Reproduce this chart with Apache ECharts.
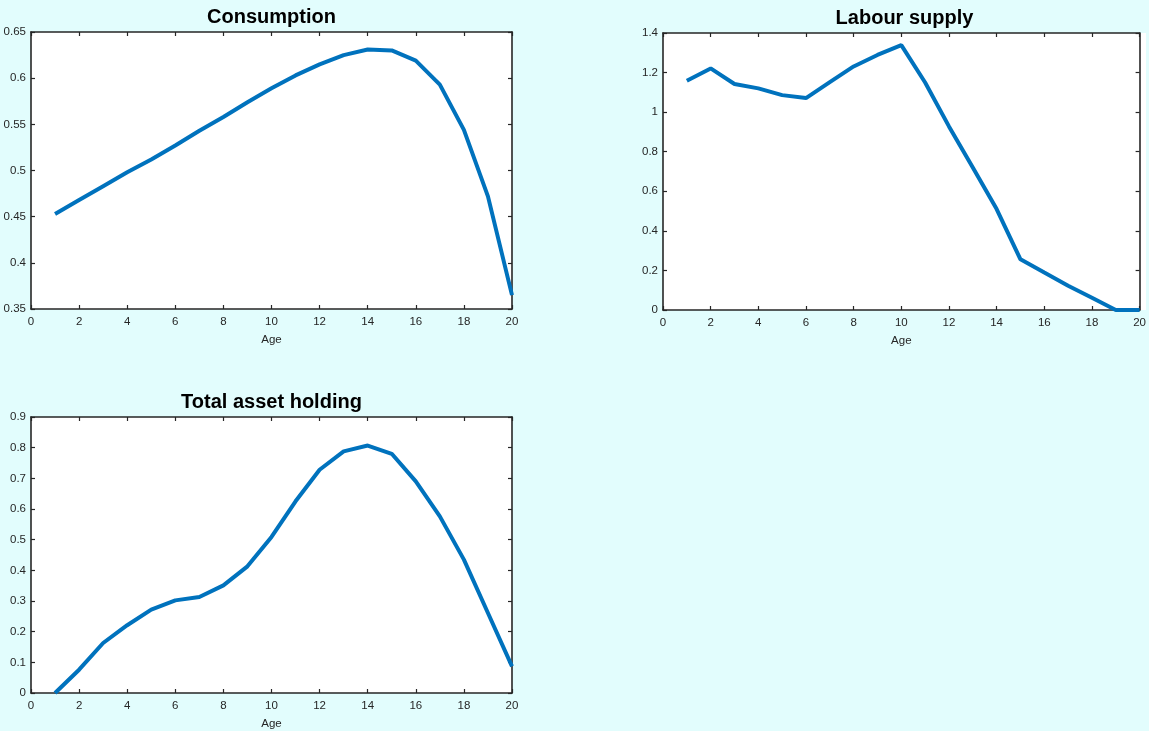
<!DOCTYPE html>
<html>
<head>
<meta charset="utf-8">
<title>Life-cycle profiles</title>
<script src="https://cdn.jsdelivr.net/npm/echarts@6/dist/echarts.min.js"></script>
<style>
  html, body { margin: 0; padding: 0; background: #e2fdfd; }
  #chart { width: 1149px; height: 731px; }
</style>
</head>
<body>
<div id="chart"></div>
<script>
// Age grid shared by all three panels
const ages = [1, 2, 3, 4, 5, 6, 7, 8, 9, 10, 11, 12, 13, 14, 15, 16, 17, 18, 19, 20];

// Consumption by age
const consumption = [0.453, 0.468, 0.483, 0.498, 0.512, 0.527, 0.543, 0.558, 0.574, 0.589,
                     0.603, 0.615, 0.625, 0.631, 0.630, 0.619, 0.593, 0.544, 0.472, 0.365];

// Labour supply by age
const labourSupply = [1.159, 1.221, 1.142, 1.120, 1.086, 1.071, 1.152, 1.231, 1.289, 1.339,
                      1.150, 0.928, 0.720, 0.510, 0.256, 0.189, 0.123, 0.062, 0.000, 0.000];

// Total asset holding by age
const assets = [0.000, 0.076, 0.163, 0.221, 0.272, 0.302, 0.313, 0.351, 0.413, 0.509,
                0.625, 0.728, 0.788, 0.807, 0.780, 0.690, 0.576, 0.435, 0.261, 0.087];

const titles = ['Consumption', 'Labour supply', 'Total asset holding'];
const xLabel = 'Age';

const FONT = '"Liberation Sans", Arial, sans-serif';
const AXIS_COLOR = '#262626';
const LINE_COLOR = '#0072bd';

const pairs = vals => ages.map((a, i) => [a, vals[i]]);

// Panel layout: grid rectangle and y-axis range for each panel
const panels = [
  { left: 31,  top: 32,  width: 481, height: 277, yMin: 0.35, yMax: 0.65, yStep: 0.05, data: consumption },
  { left: 663, top: 33,  width: 483, height: 277, yMin: 0,    yMax: 1.4,  yStep: 0.2,  data: labourSupply },
  { left: 31,  top: 417, width: 481, height: 276, yMin: 0,    yMax: 0.9,  yStep: 0.1,  data: assets }
];

const grid = [], xAxis = [], yAxis = [], series = [], title = [];

const tickStyle = { show: true, inside: true, length: 4, lineStyle: { color: AXIS_COLOR, width: 1.2 } };
const lineStyle = { show: true, onZero: false, lineStyle: { color: AXIS_COLOR, width: 1.6 } };

panels.forEach((p, i) => {
  grid.push({ left: p.left, top: p.top, width: p.width, height: p.height, containLabel: false });

  title.push({
    text: titles[i],
    left: p.left + p.width / 2,
    top: p.top - 25,
    padding: 0,
    textAlign: 'center',
    textStyle: { fontFamily: FONT, fontSize: 20, fontWeight: 'bold', color: '#000' }
  });

  // bottom x axis with labels
  xAxis.push({
    type: 'value', gridIndex: i, position: 'bottom',
    min: 0, max: 20, interval: 2,
    name: xLabel, nameLocation: 'middle', nameGap: 25,
    nameTextStyle: { fontFamily: FONT, fontSize: 11.5, color: AXIS_COLOR },
    axisLine: lineStyle, axisTick: tickStyle,
    axisLabel: { fontFamily: FONT, fontSize: 11.5, color: AXIS_COLOR, margin: 7 },
    splitLine: { show: false }
  });
  // top x axis closing the box
  xAxis.push({
    type: 'value', gridIndex: i, position: 'top',
    min: 0, max: 20, interval: 2,
    axisLine: lineStyle, axisTick: tickStyle,
    axisLabel: { show: false }, splitLine: { show: false }
  });
  // left y axis with labels
  yAxis.push({
    type: 'value', gridIndex: i, position: 'left',
    min: p.yMin, max: p.yMax, interval: p.yStep,
    axisLine: lineStyle, axisTick: tickStyle,
    axisLabel: { fontFamily: FONT, fontSize: 11.5, color: AXIS_COLOR, margin: 5 },
    splitLine: { show: false }
  });
  // right y axis closing the box
  yAxis.push({
    type: 'value', gridIndex: i, position: 'right',
    min: p.yMin, max: p.yMax, interval: p.yStep,
    axisLine: lineStyle, axisTick: tickStyle,
    axisLabel: { show: false }, splitLine: { show: false }
  });

  series.push({
    type: 'line', name: titles[i],
    xAxisIndex: i * 2, yAxisIndex: i * 2,
    data: pairs(p.data),
    showSymbol: false, symbol: 'none',
    lineStyle: { color: LINE_COLOR, width: 4 },
    clip: false,
    z: 3
  });
});

const chart = echarts.init(document.getElementById('chart'), null, { renderer: 'canvas' });
chart.setOption({
  backgroundColor: '#e2fdfd',
  animation: false,
  title, grid, xAxis, yAxis, series
});

// white plotting areas behind the lines
chart.setOption({
  graphic: panels.map(p => ({
    type: 'rect', z: -1, silent: true,
    shape: { x: p.left, y: p.top, width: p.width, height: p.height },
    style: { fill: '#ffffff' }
  }))
});
</script>
</body>
</html>
